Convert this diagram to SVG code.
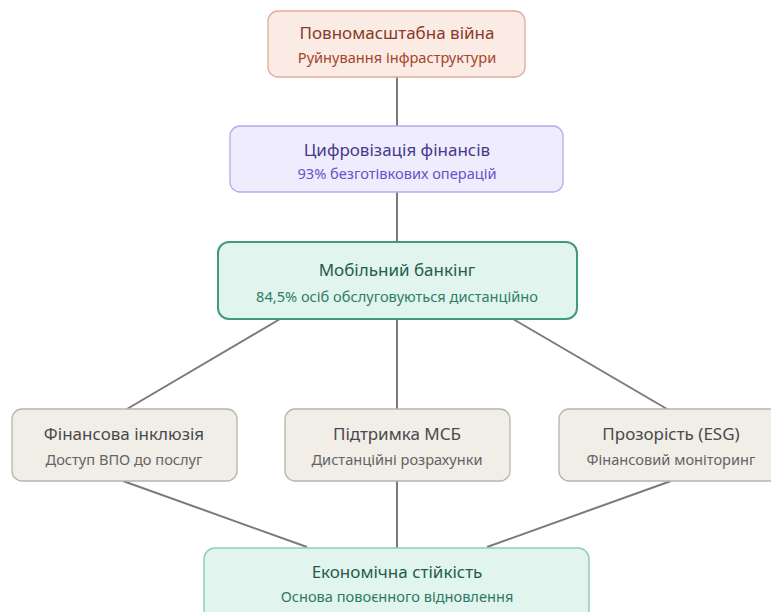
<svg xmlns="http://www.w3.org/2000/svg" width="771" height="612" viewBox="0 0 771 612">
<style>
text{font-family:"Noto Sans","Open Sans","DejaVu Sans",sans-serif;text-anchor:middle}
.t{font-size:17px}
.s{font-size:14.6px}
.c line{stroke:#7a7a78;stroke-width:2}
.war rect{fill:#fbebe5;stroke:#e3aa9a;stroke-width:1.3}
.war .t{fill:#8a3a26}.war .s{fill:#a5452b}
.dig rect{fill:#efedfd;stroke:#b4abef;stroke-width:1.3}
.dig .t{fill:#463a8e}.dig .s{fill:#6553cc}
.mob rect{fill:#e2f4ee;stroke:#3f9a7e;stroke-width:2}
.mob .t{fill:#1f5e4b}.mob .s{fill:#2b8068}
.gr rect{fill:#f1eee8;stroke:#b8b3ab;stroke-width:1.3}
.gr .t{fill:#4a4a4a}.gr .s{fill:#636363}
.eco rect{fill:#e2f4ee;stroke:#92cdb9;stroke-width:1.5}
.eco .t{fill:#1f5e4b}.eco .s{fill:#2b7a63}
</style>
<g class="c" id="connectors">
<line x1="397" y1="77" x2="397" y2="126"/>
<line x1="397" y1="192" x2="397" y2="242"/>
<line x1="280" y1="319" x2="127" y2="409"/>
<line x1="397" y1="319" x2="397" y2="409"/>
<line x1="513" y1="319" x2="667" y2="409"/>
<line x1="123" y1="481" x2="307" y2="547"/>
<line x1="397" y1="481" x2="397" y2="548"/>
<line x1="671" y1="481" x2="487" y2="547"/>
</g>
<g id="n1" class="war">
<rect x="268" y="11" width="257" height="66" rx="10"/>
<text class="t" x="397" y="39">Повномасштабна війна</text>
<text class="s" x="397" y="63">Руйнування інфраструктури</text>
</g>
<g id="n2" class="dig">
<rect x="230" y="126" width="333" height="66" rx="10"/>
<text class="t" x="397" y="156">Цифровізація фінансів</text>
<text class="s" x="397" y="179">93% безготівкових операцій</text>
</g>
<g id="n3" class="mob">
<rect x="218" y="242" width="359" height="77" rx="11"/>
<text class="t" x="397" y="276">Мобільний банкінг</text>
<text class="s" x="397" y="302">84,5% осіб обслуговуються дистанційно</text>
</g>
<g id="n4" class="gr">
<rect x="12" y="409" width="225" height="72" rx="10"/>
<text class="t" x="124" y="440">Фінансова інклюзія</text>
<text class="s" x="124" y="465">Доступ ВПО до послуг</text>
</g>
<g id="n5" class="gr">
<rect x="285" y="409" width="225" height="72" rx="10"/>
<text class="t" x="397" y="440">Підтримка МСБ</text>
<text class="s" x="397" y="465">Дистанційні розрахунки</text>
</g>
<g id="n6" class="gr">
<rect x="559" y="409" width="225" height="72" rx="10"/>
<text class="t" x="671" y="440">Прозорість (ESG)</text>
<text class="s" x="671" y="465">Фінансовий моніторинг</text>
</g>
<g id="n7" class="eco">
<rect x="204" y="548" width="385" height="72" rx="11"/>
<text class="t" x="397" y="578">Економічна стійкість</text>
<text class="s" x="397" y="602">Основа повоєнного відновлення</text>
</g>
</svg>
